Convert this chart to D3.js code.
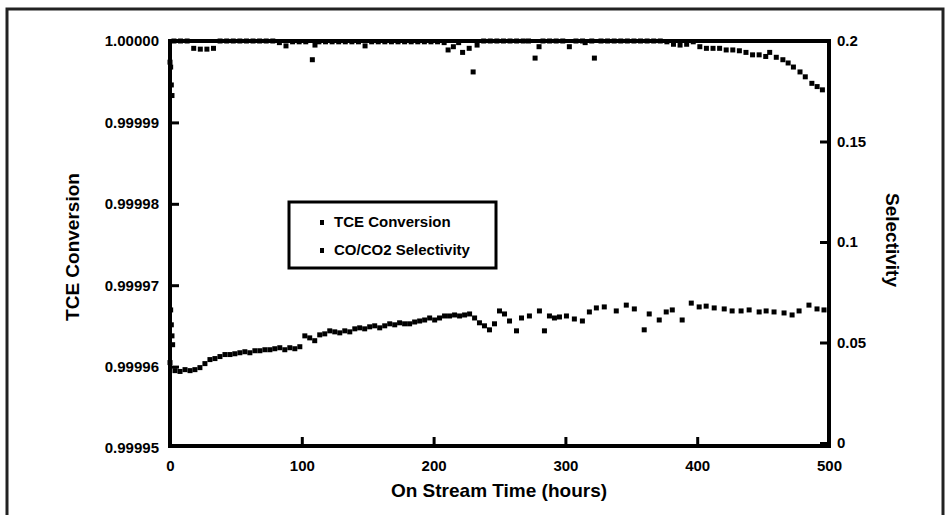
<!DOCTYPE html>
<html>
<head>
<meta charset="utf-8">
<script src="https://cdnjs.cloudflare.com/ajax/libs/d3/7.8.5/d3.min.js"></script>
<style>
  body { margin: 0; background: #fff; }
  svg text { font-family: "Liberation Sans", Arial, sans-serif; font-weight: bold; fill: #000; }
</style>
</head>
<body>
<div class="canvas"></div>
<script>

// TCE conversion (left axis)
const tceHours = [0, 0.5, 1, 1.5, 3, 8, 13, 18, 23, 28, 33, 38, 43, 48, 53, 58, 63, 68, 73, 78, 83, 88, 93, 98, 103, 108, 110, 113, 118, 123, 128, 133, 138, 143, 148, 153, 158, 163, 168, 173, 178, 183, 188, 193, 198, 203, 208, 211, 215, 219, 222, 227, 230, 233, 238, 243, 248, 253, 258, 263, 268, 272, 277, 280, 283, 288, 293, 298, 303, 308, 313, 315, 320, 322, 327, 332, 337, 342, 347, 352, 357, 362, 367, 372, 377, 382, 387, 392, 397, 402, 407, 412, 417, 422, 427, 432, 437, 442, 447, 452, 455, 460, 465, 469, 473, 478, 482, 487, 491, 495];
const tceValues = [0.9999974, 0.9999968, 0.9999946, 0.9999933, 1.0, 1.0, 1.0, 0.9999991, 0.9999990, 0.9999990, 0.9999991, 1.0, 1.0, 1.0, 1.0, 1.0, 1.0, 1.0, 1.0, 1.0, 0.9999998, 0.9999994, 0.9999999, 0.9999999, 0.9999999, 0.9999977, 0.9999995, 0.9999999, 0.9999999, 0.9999999, 0.9999999, 0.9999999, 0.9999999, 0.9999999, 0.9999994, 0.9999999, 0.9999999, 0.9999999, 0.9999999, 0.9999999, 0.9999999, 0.9999999, 0.9999999, 0.9999999, 0.9999999, 0.9999999, 0.9999998, 0.9999989, 0.9999993, 0.9999998, 0.9999986, 0.9999991, 0.9999962, 0.9999995, 1.0, 1.0, 1.0, 1.0, 1.0, 1.0, 1.0, 1.0, 0.9999979, 0.9999993, 1.0, 1.0, 1.0, 1.0, 0.9999993, 1.0, 1.0, 0.9999998, 1.0, 0.9999979, 1.0, 1.0, 1.0, 1.0, 1.0, 1.0, 1.0, 1.0, 1.0, 1.0, 0.9999999, 0.9999996, 0.9999995, 0.9999996, 0.9999999, 0.9999993, 0.9999991, 0.9999991, 0.9999991, 0.9999989, 0.9999989, 0.9999988, 0.9999986, 0.9999983, 0.9999983, 0.9999981, 0.9999986, 0.9999980, 0.9999977, 0.9999973, 0.9999968, 0.9999962, 0.9999956, 0.9999948, 0.9999944, 0.9999940];

// CO/CO2 selectivity (right axis)
const selHours = [0, 0.5, 1, 1.5, 2, 3.8, 7.6, 11.4, 15.2, 18.9, 22.7, 26.5, 30.3, 34.1, 37.9, 41.7, 45.5, 49.2, 53, 56.8, 60.6, 64.4, 68.2, 72, 75.8, 79.5, 83.3, 87.1, 90.9, 94.7, 98.5, 102.3, 106, 109.8, 113.6, 117.4, 121.2, 125, 128.8, 132.6, 136.4, 140.2, 143.9, 147.7, 151.5, 155.3, 159.1, 162.9, 166.7, 170.5, 174.2, 178, 181.8, 185.6, 189.4, 193.2, 197, 200.8, 204.5, 208.3, 212.1, 215.9, 219.7, 223.5, 227.3, 231.1, 234.8, 238.6, 242.4, 246.2, 250, 253.8, 257.6, 262.9, 266.7, 272.7, 280.3, 284.1, 287.9, 291.7, 295.5, 300.8, 306.8, 312.9, 318.2, 323.5, 329.5, 338.6, 346.2, 352.3, 359.8, 363.6, 371.2, 376.5, 381.1, 388.6, 395.5, 401.5, 406.8, 412.9, 420.5, 426.5, 433.3, 439.4, 447, 452.3, 458.3, 465.9, 472, 477.3, 484.8, 490.9, 496.2];
const selValues = [0.0400, 0.0662, 0.0588, 0.0533, 0.0489, 0.0360, 0.0356, 0.0365, 0.0360, 0.0365, 0.0375, 0.0395, 0.0415, 0.0420, 0.0430, 0.0440, 0.0440, 0.0444, 0.0449, 0.0454, 0.0449, 0.0459, 0.0459, 0.0464, 0.0464, 0.0469, 0.0474, 0.0464, 0.0474, 0.0469, 0.0479, 0.0533, 0.0523, 0.0509, 0.0538, 0.0543, 0.0558, 0.0553, 0.0548, 0.0558, 0.0553, 0.0568, 0.0573, 0.0568, 0.0578, 0.0583, 0.0573, 0.0583, 0.0593, 0.0588, 0.0598, 0.0593, 0.0593, 0.0602, 0.0607, 0.0612, 0.0622, 0.0612, 0.0622, 0.0632, 0.0632, 0.0637, 0.0632, 0.0637, 0.0642, 0.0622, 0.0598, 0.0583, 0.0563, 0.0593, 0.0657, 0.0642, 0.0607, 0.0558, 0.0622, 0.0632, 0.0657, 0.0558, 0.0632, 0.0622, 0.0627, 0.0632, 0.0617, 0.0607, 0.0652, 0.0672, 0.0677, 0.0657, 0.0686, 0.0667, 0.0563, 0.0642, 0.0612, 0.0652, 0.0662, 0.0612, 0.0696, 0.0677, 0.0681, 0.0672, 0.0667, 0.0657, 0.0657, 0.0662, 0.0652, 0.0657, 0.0652, 0.0647, 0.0637, 0.0657, 0.0686, 0.0667, 0.0662];

const xTicks = [0, 100, 200, 300, 400, 500];
const leftTicks = [0.99995, 0.99996, 0.99997, 0.99998, 0.99999, 1.0];
const leftTickLabels = ["0.99995", "0.99996", "0.99997", "0.99998", "0.99999", "1.00000"];
const rightTicks = [0, 0.05, 0.1, 0.15, 0.2];
const rightTickLabels = ["0", "0.05", "0.1", "0.15", "0.2"];
const legendLabels = ["TCE Conversion", "CO/CO2 Selectivity"];

const W = 949, H = 515;
const svg = d3.select(".canvas").append("svg").attr("width", W).attr("height", H);

// outer frame of the figure
svg.append("rect").attr("x", 7).attr("y", 9).attr("width", 936).attr("height", 520)
  .attr("fill", "none").attr("stroke", "#222").attr("stroke-width", 3);

const x = d3.scaleLinear().domain([0, 500]).range([170, 829]);
const yL = d3.scaleLinear().domain([0.99995, 1.0]).range([448, 41]);
const yR = d3.scaleLinear().domain([0, 0.2]).range([443, 41]);

// plot box
svg.append("rect").attr("x", 170).attr("y", 41).attr("width", 659).attr("height", 405)
  .attr("fill", "none").attr("stroke", "#000").attr("stroke-width", 4);

function styleAxis(g) {
  g.select(".domain").remove();
  g.selectAll(".tick line").attr("stroke", "#000").attr("stroke-width", 3);
  g.selectAll(".tick text").style("font-size", "15px");
}

svg.append("g").attr("transform", "translate(170,0)")
  .call(d3.axisLeft(yL).tickValues(leftTicks.slice(1)).tickFormat((d, i) => leftTickLabels[i + 1]).tickSizeInner(-9).tickSizeOuter(0).tickPadding(11))
  .call(styleAxis);
// bottom left label sits on the x axis, no tick
svg.append("text").attr("x", 159).attr("y", yL(leftTicks[0]) + 5).attr("text-anchor", "end")
  .style("font-size", "15px").text(leftTickLabels[0]);

svg.append("g").attr("transform", "translate(829,0)")
  .call(d3.axisRight(yR).tickValues(rightTicks).tickFormat((d, i) => rightTickLabels[i]).tickSizeInner(-9).tickSizeOuter(0).tickPadding(8))
  .call(styleAxis);

svg.append("g").attr("transform", "translate(0,446)")
  .call(d3.axisBottom(x).tickValues(xTicks).tickFormat(d3.format("d")).tickSizeInner(-9).tickSizeOuter(0).tickPadding(14))
  .call(styleAxis);

// axis titles
svg.append("text").attr("x", 499).attr("y", 497).attr("text-anchor", "middle")
  .style("font-size", "19px").text("On Stream Time (hours)");

svg.append("text").attr("transform", "translate(79,247) rotate(-90)").attr("text-anchor", "middle")
  .style("font-size", "19px").text("TCE Conversion");

svg.append("text").attr("transform", "translate(886,240) rotate(90)").attr("text-anchor", "middle")
  .style("font-size", "19px").text("Selectivity");

// points
const tce = tceHours.map((h, i) => ({ h: h, v: tceValues[i] }));
const sel = selHours.map((h, i) => ({ h: h, v: selValues[i] }));

svg.append("g").selectAll("rect").data(tce).enter().append("rect")
  .attr("x", d => x(d.h) - 2.5).attr("y", d => yL(d.v) - 2.5)
  .attr("width", 5).attr("height", 5).attr("fill", "#000");

svg.append("g").selectAll("rect").data(sel).enter().append("rect")
  .attr("x", d => x(d.h) - 2.5).attr("y", d => yR(d.v) - 2.5)
  .attr("width", 5).attr("height", 5).attr("fill", "#000");

// legend
const leg = svg.append("g");
leg.append("rect").attr("x", 289).attr("y", 202).attr("width", 207).attr("height", 66)
  .attr("fill", "#fff").attr("stroke", "#000").attr("stroke-width", 3);
legendLabels.forEach(function (t, i) {
  leg.append("rect").attr("x", 320).attr("y", 220 + i * 28).attr("width", 4).attr("height", 5).attr("fill", "#000");
  leg.append("text").attr("x", 334).attr("y", 227 + i * 28).style("font-size", "15px").text(t);
});

</script>
</body>
</html>
